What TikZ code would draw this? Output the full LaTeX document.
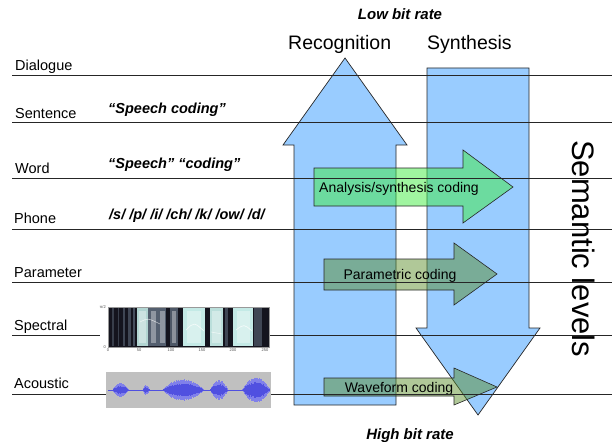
\documentclass[tikz,border=0pt]{standalone}
\usepackage{fontspec}
\setmainfont{Liberation Sans}
\definecolor{arrowblue}{HTML}{99CCFF}
\definecolor{greenA}{RGB}{65,235,65}
\definecolor{greenB}{RGB}{87,138,36}
\definecolor{specdark}{HTML}{14141E}
\definecolor{specmid}{HTML}{5C6878}
\definecolor{specbright}{HTML}{C4EAE6}
\definecolor{wavebg}{HTML}{C0C0C0}
\definecolor{wavedark}{HTML}{5050E0}
\definecolor{wavelight}{HTML}{8080EA}
\begin{document}
\begin{tikzpicture}[x=1pt,y=-1pt,
  lvl/.style={anchor=base west, inner sep=0, font=\fontsize{14.5}{17}\selectfont},
  ex/.style={anchor=base west, inner sep=0, font=\fontsize{14.5}{17}\selectfont\bfseries\itshape},
  ttl/.style={anchor=base west, inner sep=0, font=\fontsize{19.5}{22}\selectfont},
  rate/.style={anchor=base, inner sep=0, font=\fontsize{15}{17}\selectfont\bfseries\itshape},
  codetxt/.style={anchor=base, inner sep=0, font=\fontsize{14}{16}\selectfont},
  tick/.style={inner sep=0, font=\fontsize{4}{5}\selectfont, text=black!70},
  bluearrow/.style={fill=arrowblue, draw=black!85, line width=0.7pt},
  greenarrow/.style={fill=greenA, fill opacity=0.5, draw=black!85, line width=0.6pt},
  olivearrow/.style={fill=greenB, fill opacity=0.47, draw=black!85, line width=0.6pt},
  levelline/.style={draw=black!85, line width=0.8pt},
  wavec/.style={line width=0.55pt},
  declare function={env(\x)=7*max(0,1-((\x-120.5)/8)^2)+5*max(0,1-((\x-146)/3.5)^2)+11*max(0,1-((\x-183)/21)^2)+10*max(0,1-((\x-219)/9)^2)+13*max(0,1-((\x-256)/14)^2);}
]
\useasboundingbox (0,0) rectangle (612,441);

% --- big blue arrows ---
\draw[bluearrow] (294,405) -- (294,145) -- (283,145) -- (345,58) -- (407,145) -- (396,145) -- (396,405) -- cycle;
\draw[bluearrow] (427,68) -- (529,68) -- (529,328) -- (540,328) -- (478,415) -- (416,328) -- (427,328) -- cycle;

% --- coding arrows ---
\draw[greenarrow] (314,168) -- (463,168) -- (463,150) -- (513,187) -- (463,223) -- (463,206) -- (314,206) -- cycle;
\draw[olivearrow] (324,259) -- (454,259) -- (454,243) -- (497,274) -- (454,305) -- (454,290) -- (324,290) -- cycle;
\draw[olivearrow] (324,378) -- (454,378) -- (454,368) -- (497,387) -- (454,405) -- (454,396) -- (324,396) -- cycle;

\node[codetxt] (anasyn) at (399,192) {Analysis/synthesis coding};
\node[codetxt] (param) at (400,279) {Parametric coding};
\node[codetxt] (wave) at (399,392) {Waveform coding};

% --- level lines ---
\draw[levelline] (12,75) -- (612,75);
\draw[levelline] (12,122) -- (612,122);
\draw[levelline] (12,178) -- (612,178);
\draw[levelline] (12,229) -- (612,229);
\draw[levelline] (12,282) -- (612,282);
\draw[levelline] (12,335) -- (100,335);
\draw[levelline] (269,335) -- (612,335);
\draw[levelline] (12,394) -- (612,394);

% --- level labels ---
\node[lvl] (dialogue) at (15,71) {Dialogue};
\node[lvl] (sentence) at (15,118) {Sentence};
\node[lvl] (word) at (15,173.5) {Word};
\node[lvl] (phone) at (14,223.5) {Phone};
\node[lvl] (parameter) at (14,277) {Parameter};
\node[lvl] (spectral) at (14,330) {Spectral};
\node[lvl] (acoustic) at (14,388.5) {Acoustic};

\node[ex] (exsent) at (108,113.5) {“Speech coding”};
\node[ex] (exword) at (108,168) {“Speech” “coding”};
\node[ex] (exphone) at (109,219) {/s/ /p/ /i/ /ch/ /k/ /ow/ /d/};

% --- titles ---
\node[ttl] (recog) at (288,50) {Recognition};
\node[ttl] (synth) at (427,50) {Synthesis};
\node[rate] (low) at (400,19.5) {Low bit rate};
\node[rate] (high) at (410,439) {High bit rate};
\node[anchor=base west, inner sep=0, rotate=-90, font=\fontsize{31}{34}\selectfont] (semantic) at (572,140) {Semantic levels};

% --- spectrogram ---
\fill[specdark] (108,307) rectangle (269,347);
\foreach \a/\b/\c/\o in {112/114/specmid/0.5, 118/119/specmid/0.5, 123/125/specmid/0.6, 128/131/specmid/0.6, 133/135/specmid/0.7,
  137/148/specbright/0.9, 148/167/specmid/0.9, 170/178/specmid/0.8, 183/205/specbright/1, 210/223/specbright/0.95,
  225/228/specmid/0.6, 233/253/specbright/1, 254/262/specmid/0.6}{
  \fill[\c, opacity=\o] (\a,308) rectangle (\b,346);
}
\foreach \a/\b in {139/146, 151/156, 160/165, 172/176, 187/201, 212/221, 237/250}{
  \fill[white, opacity=0.35] (\a,311) rectangle (\b,343);
}
\foreach \a/\b in {166/170, 178/183, 205/210, 228/233}{
  \fill[specdark] (\a,308) rectangle (\b,346);
}
\draw[white, opacity=0.7, line width=0.7pt] (186,330) .. controls (194,322) .. (204,331);
\draw[white, opacity=0.7, line width=0.7pt] (236,330) .. controls (244,324) .. (252,331);
\draw[white, opacity=0.6, line width=0.6pt] (140,322) .. controls (148,318) .. (160,324);
\draw[white, opacity=0.6, line width=0.6pt] (211,332) -- (222,334);
\draw[black!40, line width=0.4pt] (108,307) rectangle (269,347);
\node[tick, anchor=east] (nyq) at (106,307) {π/2};
\node[tick, anchor=east] (zero) at (106,347) {0};
\foreach \t/\xx in {0/108, 50/139, 100/171, 150/202, 200/233, 250/265}{
  \node[tick, anchor=north] (t\t) at (\xx,348.5) {\t};
}

% --- waveform ---
\fill[wavebg] (106,372) rectangle (271,408);
\draw[wavedark, line width=0.6pt] (108,390) -- (270,390);
\pgfmathsetseed{11}
\foreach \x in {107,107.5,...,270}{
  \pgfmathsetmacro\h{env(\x)*(0.8+0.2*rnd)}
  \draw[wavec, wavelight] (\x,{390-\h}) -- (\x,{390+\h});
  \pgfmathsetmacro\k{0.65*env(\x)*(0.7+0.3*rnd)}
  \draw[wavec, wavedark] (\x,{390-\k}) -- (\x,{390+\k});
}
\end{tikzpicture}
\end{document}
